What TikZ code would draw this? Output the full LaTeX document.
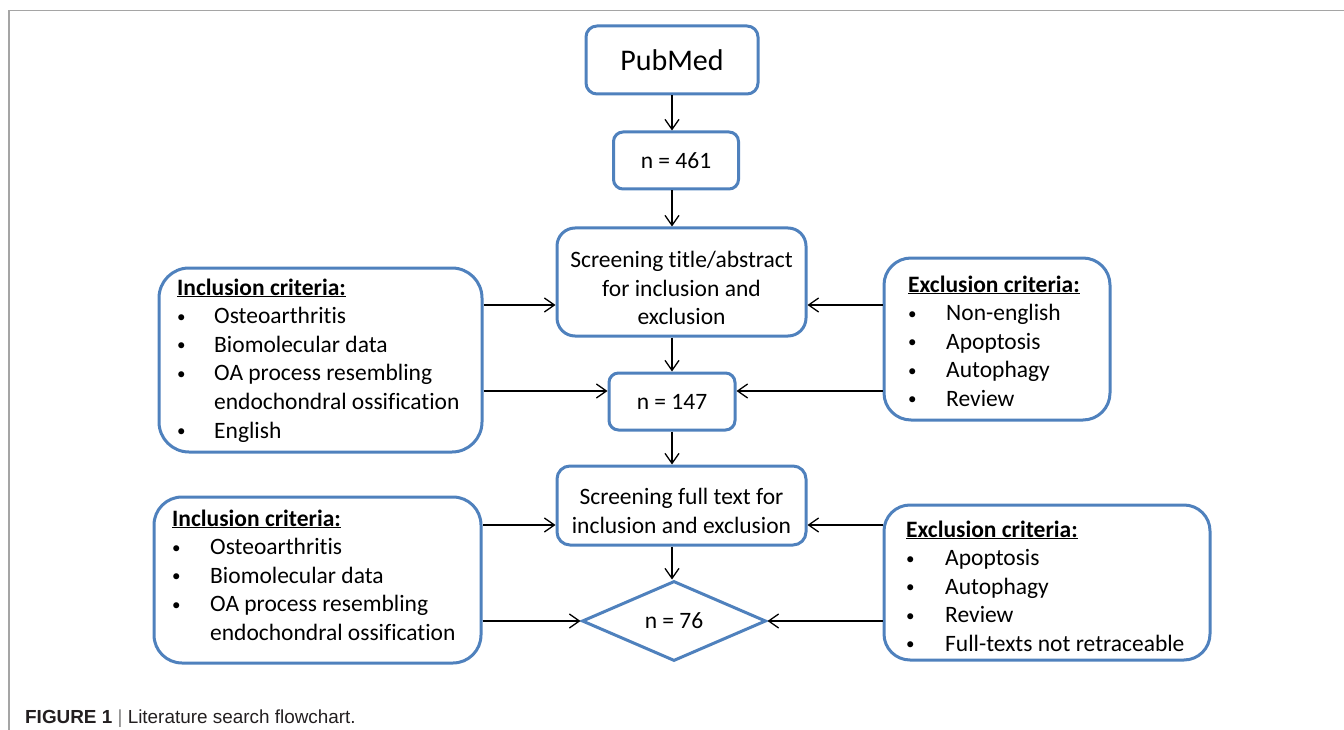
\documentclass[tikz,border=0pt]{standalone}
\usepackage{fontspec}
\setmainfont{Carlito}[Ligatures=CommonOff]
\newfontfamily\capfont{Liberation Sans}
\usetikzlibrary{shapes.geometric,arrows.meta}
\definecolor{boxblue}{RGB}{79,129,189}
\definecolor{framegray}{RGB}{165,165,165}
\definecolor{captext}{RGB}{35,31,32}
\newcommand\bodysize{\fontsize{23.5}{28.6}\selectfont}
\newcommand\bul{\raisebox{1.5pt}{\fontsize{17}{17}\selectfont •}}
\begin{document}
\begin{tikzpicture}[x=1pt,y=-1pt,
  box/.style={draw=boxblue, line width=3pt, fill=white, inner sep=0pt, align=center, font=\bodysize},
  arr/.style={draw=black, line width=1.3pt, -{Straight Barb[length=10pt,width=14pt]}},
  crit/.style={anchor=base west, inner sep=0pt, font=\bodysize}]
\useasboundingbox (0,0) rectangle (1344,730);
\draw[framegray, line width=1.5pt] (1344,10.5) -- (9,10.5) -- (9,730);

% central column
\node[box, minimum width=172pt, minimum height=68pt, rounded corners=11pt, font=\fontsize{30}{36}\selectfont] (pub) at (672,60) {PubMed};
\node[box, minimum width=125pt, minimum height=57pt, rounded corners=9.5pt] (n461) at (676,160.5) {n = 461};
\node[box, minimum width=249pt, minimum height=108pt, rounded corners=18pt] (scr1) at (681.5,282) {};
\node[inner sep=0pt, align=center, font=\bodysize] (scr1t) at (681.5,288) {Screening title/abstract\\for inclusion and\\exclusion};
\node[box, minimum width=126pt, minimum height=57pt, rounded corners=9.5pt] (n147) at (672,401.5) {n = 147};
\node[box, minimum width=249pt, minimum height=79pt, rounded corners=13pt] (scr2) at (681.5,505.5) {};
\node[inner sep=0pt, align=center, font=\bodysize] (scr2t) at (681.5,511) {Screening full text for\\inclusion and exclusion};
\node[box, diamond, minimum width=184pt, minimum height=80pt] (dia) at (674,621) {n = 76};

% side boxes
\node[box, minimum width=323pt, minimum height=184pt, rounded corners=30pt] (inc1) at (320.5,360) {};
\node[box, minimum width=226pt, minimum height=162pt, rounded corners=27pt] (exc1) at (997,339) {};
\node[box, minimum width=327pt, minimum height=166pt, rounded corners=28pt] (inc2) at (317.5,580) {};
\node[box, minimum width=326pt, minimum height=155pt, rounded corners=26pt] (exc2) at (1047,582.5) {};

\node[crit] (inc1t) at (177,295) {\begin{tabular}[t]{@{}p{37pt}@{}l@{}}
\multicolumn{2}{@{}l@{}}{\textbf{\underline{Inclusion criteria:}}}\\
\bul&Osteoarthritis\\
\bul&Biomolecular data\\
\bul&OA process resembling\\
&endochondral ossification\\
\bul&English
\end{tabular}};
\node[crit] (exc1t) at (908,292) {\begin{tabular}[t]{@{}p{38pt}@{}l@{}}
\multicolumn{2}{@{}l@{}}{\textbf{\underline{Exclusion criteria:}}}\\
\bul&Non-english\\
\bul&Apoptosis\\
\bul&Autophagy\\
\bul&Review
\end{tabular}};
\node[crit] (inc2t) at (172,526) {\begin{tabular}[t]{@{}p{38pt}@{}l@{}}
\multicolumn{2}{@{}l@{}}{\textbf{\underline{Inclusion criteria:}}}\\
\bul&Osteoarthritis\\
\bul&Biomolecular data\\
\bul&OA process resembling\\
&endochondral ossification
\end{tabular}};
\node[crit] (exc2t) at (906,537) {\begin{tabular}[t]{@{}p{39pt}@{}l@{}}
\multicolumn{2}{@{}l@{}}{\textbf{\underline{Exclusion criteria:}}}\\
\bul&Apoptosis\\
\bul&Autophagy\\
\bul&Review\\
\bul&Full-texts not retraceable
\end{tabular}};

% vertical connectors
\draw[arr] (pub.south) -- (pub.south |- n461.north);
\draw[arr] (pub.south |- n461.south) -- (pub.south |- scr1.north);
\draw[arr] (n147.north |- scr1.south) -- (n147.north);
\draw[arr] (n147.south) -- (n147.south |- scr2.north);
\draw[arr] (n147.south |- scr2.south) -- (n147.south |- dia.north);

% horizontal connectors
\coordinate (ya) at (0,305);
\coordinate (yb) at (0,391);
\coordinate (yc) at (0,525);
\draw[arr] (inc1.east |- ya) -- (scr1.west |- ya);
\draw[arr] (exc1.west |- ya) -- (scr1.east |- ya);
\draw[arr] (inc1.east |- yb) -- (n147.west |- yb);
\draw[arr] (exc1.west |- yb) -- (n147.east |- yb);
\draw[arr] (inc2.east |- yc) -- (scr2.west |- yc);
\draw[arr] (exc2.west |- yc) -- (scr2.east |- yc);
\draw[arr] (inc2.east |- dia.west) -- (dia.west);
\draw[arr] (exc2.west |- dia.east) -- (dia.east);

% caption
\node[anchor=base west, inner sep=0pt, text=captext, font=\capfont\fontsize{18.9}{22}\selectfont] (cap) at (25,723) {\textbf{FIGURE 1} {\color{gray}|} Literature search flowchart.};
\end{tikzpicture}
\end{document}
